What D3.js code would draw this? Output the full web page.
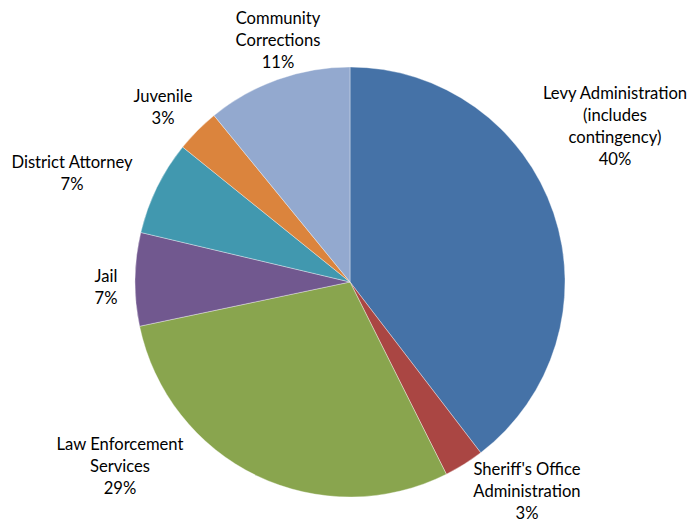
<!DOCTYPE html>
<html>
<head>
<meta charset="utf-8">
<script src="https://cdn.jsdelivr.net/npm/d3@7/dist/d3.min.js"></script>
<style>
  html, body { margin: 0; padding: 0; background: #ffffff; }
  svg { display: block; }
  text { font-family: Lato, "Open Sans", sans-serif; font-size: 16.6px; fill: #000; }
</style>
</head>
<body>
<svg id="chart" width="691" height="523"></svg>
<script>
// Budget shares, in percent, clockwise from 12 o'clock
const categories = [
  "Levy Administration (includes contingency)",
  "Sheriff's Office Administration",
  "Law Enforcement Services",
  "Jail",
  "District Attorney",
  "Juvenile",
  "Community Corrections"
];
const values = [39.6, 3.0, 29.1, 7.0, 7.1, 3.3, 10.9];
const colors = ["#4572A7", "#AA4643", "#89A54E", "#71588F", "#4198AF", "#DB843D", "#93A9CF"];
// Label text broken into lines
const labelLines = [
  ["Levy Administration", "(includes", "contingency)"],
  ["Sheriff's Office", "Administration"],
  ["Law Enforcement", "Services"],
  ["Jail"],
  ["District Attorney"],
  ["Juvenile"],
  ["Community", "Corrections"]
];
// Label anchor points (centre of the text block's first line)
const labelPos = [
  [615, 99], [527, 475], [120, 450], [106, 282], [72, 168], [163, 102], [278, 24]
];

const cx = 350, cy = 282, r = 215;
const svg = d3.select("#chart");
const g = svg.append("g").attr("transform", `translate(${cx},${cy})`);

const pie = d3.pie().sort(null).value(d => d);
const arc = d3.arc().innerRadius(0).outerRadius(r);
const arcs = pie(values);

g.selectAll("path.slice")
  .data(arcs)
  .enter().append("path")
  .attr("class", "slice")
  .attr("d", arc)
  .attr("fill", (d, i) => colors[i])
  .attr("stroke", "#ffffff")
  .attr("stroke-width", 0.6)
  .attr("stroke-opacity", 0.6);

const lineH = 22;
const labels = svg.selectAll("text.lbl")
  .data(arcs)
  .enter().append("text")
  .attr("class", "lbl")
  .attr("text-anchor", "middle");

labels.each(function(d, i) {
  const t = d3.select(this);
  const [x, y] = labelPos[i];
  const lines = labelLines[i].concat([Math.round(d.data) + "%"]);
  lines.forEach((ln, k) => {
    t.append("tspan")
      .attr("x", x)
      .attr("y", y + k * lineH)
      .text(ln);
  });
});
</script>
</body>
</html>
